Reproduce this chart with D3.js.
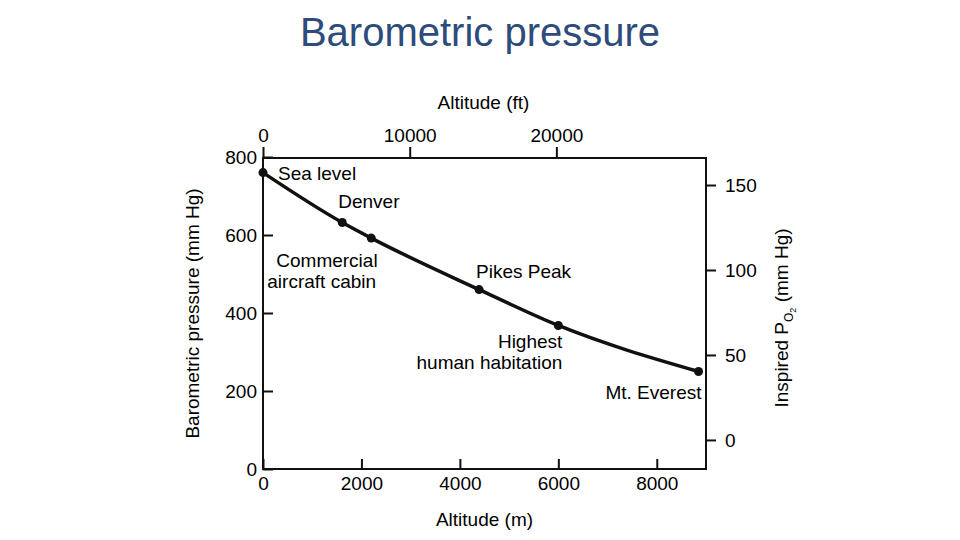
<!DOCTYPE html>
<html>
<head>
<meta charset="utf-8">
<script src="https://cdn.jsdelivr.net/npm/d3@7"></script>
<style>
  body { margin: 0; background: #fff; }
  text { font-family: "Liberation Sans", Arial, sans-serif; fill: #000; }
</style>
</head>
<body>
<div id="chart"></div>
<script>
// altitude (m) and barometric pressure (mm Hg) for each named place
var places = ["Sea level", "Denver", "Commercial aircraft cabin", "Pikes Peak", "Highest human habitation", "Mt. Everest"];
var altitudeM = [0, 1610, 2200, 4390, 6000, 8848];
var pressure = [760, 632, 592, 460, 368, 250];

var xTicksM = [0, 2000, 4000, 6000, 8000];
var xTicksFt = [0, 10000, 20000];
var yTicksP = [0, 200, 400, 600, 800];
var yTicksO2 = [0, 50, 100, 150];

var W = 960, H = 540;
var svg = d3.select("#chart").append("svg").attr("width", W).attr("height", H);

var pLeft = 263, pRight = 706, pTop = 158, pBottom = 469;

var x = d3.scaleLinear().domain([0, 9000]).range([pLeft, pRight]);
var xFt = d3.scaleLinear().domain([0, 30200]).range([pLeft, pRight]);
var y = d3.scaleLinear().domain([0, 800]).range([pBottom, 157]);
var yO2 = d3.scaleLinear().domain([-17.1, 165.9]).range([pBottom, pTop]);

svg.append("text").attr("x", 480).attr("y", 46).attr("text-anchor", "middle")
  .style("font-size", "40px").style("fill", "#2d4b7b").text("Barometric pressure");

// frame
svg.append("rect").attr("x", pLeft).attr("y", pTop).attr("width", pRight - pLeft).attr("height", pBottom - pTop)
  .attr("fill", "none").attr("stroke", "#111").attr("stroke-width", 2);

function styleAxis(g) {
  g.select(".domain").remove();
  g.selectAll(".tick line").attr("stroke", "#111").attr("stroke-width", 2);
  g.selectAll(".tick text").style("font-size", "19px").attr("fill", "#000");
}

// bottom axis, ticks inward
svg.append("g").attr("transform", "translate(0," + pBottom + ")")
  .call(d3.axisBottom(x).tickValues(xTicksM).tickSize(-10).tickPadding(6).tickFormat(d3.format("d")))
  .call(styleAxis)
  .call(g => g.selectAll(".tick text").attr("y", 8));

// top axis, ticks outward
svg.append("g").attr("transform", "translate(0," + pTop + ")")
  .call(d3.axisTop(xFt).tickValues(xTicksFt).tickSize(11).tickPadding(5).tickFormat(d3.format("d")))
  .call(styleAxis);

// left axis, ticks inward
svg.append("g").attr("transform", "translate(" + pLeft + ",0)")
  .call(d3.axisLeft(y).tickValues(yTicksP).tickSize(-10).tickPadding(6).tickFormat(d3.format("d")))
  .call(styleAxis)
  .call(g => g.selectAll(".tick text").attr("x", -6));

// right axis, ticks outward
svg.append("g").attr("transform", "translate(" + pRight + ",0)")
  .call(d3.axisRight(yO2).tickValues(yTicksO2).tickSize(10).tickPadding(9).tickFormat(d3.format("d")))
  .call(styleAxis);

// axis titles
svg.append("text").attr("x", (pLeft + pRight) / 2).attr("y", 526).attr("text-anchor", "middle")
  .style("font-size", "19px").text("Altitude (m)");
svg.append("text").attr("x", (pLeft + pRight) / 2 - 1).attr("y", 109).attr("text-anchor", "middle")
  .style("font-size", "19px").text("Altitude (ft)");
svg.append("text").attr("transform", "translate(199," + ((pTop + pBottom) / 2) + ") rotate(-90)")
  .attr("text-anchor", "middle").style("font-size", "19px").text("Barometric pressure (mm Hg)");

var rt = svg.append("text").attr("transform", "translate(788,318) rotate(-90)")
  .attr("text-anchor", "middle").style("font-size", "19px");
rt.append("tspan").text("Inspired P");
rt.append("tspan").attr("dy", 5).style("font-size", "12px").text("O");
rt.append("tspan").attr("dy", 3).style("font-size", "9px").text("2");
rt.append("tspan").attr("dy", -8).text("  (mm Hg)");

// curve and points
var pts = altitudeM.map((a, i) => [a, pressure[i]]);
svg.append("path").datum(pts)
  .attr("d", d3.line().x(d => x(d[0])).y(d => y(d[1])).curve(d3.curveMonotoneX))
  .attr("fill", "none").attr("stroke", "#111").attr("stroke-width", 3.5);

svg.selectAll("circle.pt").data(pts).enter().append("circle").attr("class", "pt")
  .attr("cx", d => x(d[0])).attr("cy", d => y(d[1])).attr("r", 4.5).attr("fill", "#111");

// place labels: offsets relative to each point
var labelPos = [
  {dx: 15, dy: 7, anchor: "start"},
  {dx: -4, dy: -15, anchor: "start"},
  {dx: -104, dy: 29, anchor: "start"},
  {dx: -3, dy: -12, anchor: "start"},
  {dx: 4, dy: 23, anchor: "end"},
  {dx: 3, dy: 27, anchor: "end"}
];
places.forEach(function(name, i) {
  var p = labelPos[i];
  var words = name === "Commercial aircraft cabin" ? ["Commercial", "aircraft cabin"]
    : name === "Highest human habitation" ? ["Highest", "human habitation"] : [name];
  var t = svg.append("text").attr("x", x(altitudeM[i]) + p.dx).attr("y", y(pressure[i]) + p.dy)
    .attr("text-anchor", p.anchor).style("font-size", "19px");
  words.forEach(function(w, j) {
    var s = t.append("tspan").attr("x", x(altitudeM[i]) + p.dx).attr("dy", j === 0 ? 0 : 21).text(w);
    if (name === "Commercial aircraft cabin" && j === 0) s.attr("dx", 9);
  });
});
</script>
</body>
</html>
